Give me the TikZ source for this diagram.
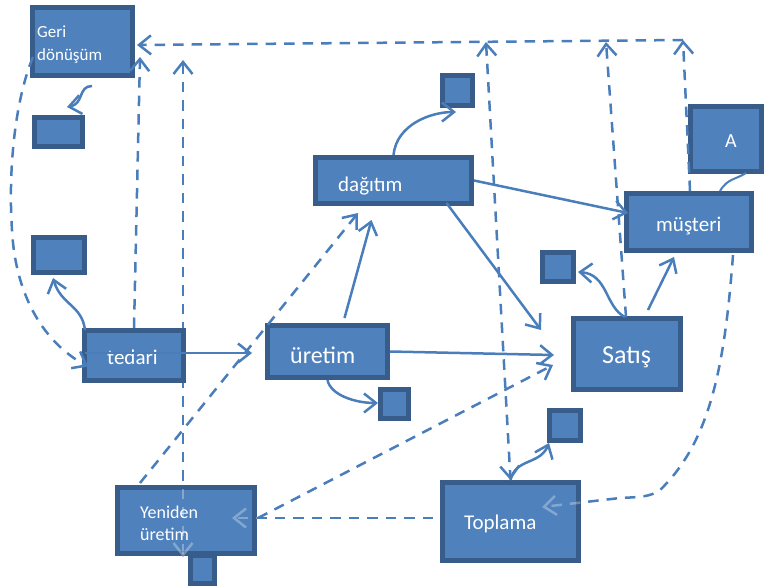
\documentclass[tikz,border=0pt]{standalone}
\usepackage{fontspec}
\setmainfont{Carlito}
\usetikzlibrary{arrows.meta,calc}
\definecolor{boxfill}{HTML}{4F81BD}
\definecolor{boxline}{HTML}{385D8A}
\definecolor{lineblue}{HTML}{4A7EBB}
\begin{document}
\begin{tikzpicture}[x=1pt,y=-1pt,
  >={Straight Barb[length=12pt,width=19pt]},
  box/.style={draw=boxline, fill=boxfill, line width=5pt, inner sep=0pt},
  lbl/.style={text=white, inner sep=0pt, anchor=base west},
  link/.style={draw=lineblue, line width=2.5pt, ->},
  dlink/.style={link, dash pattern=on 10.5pt off 8pt},
  thin/.style={draw=lineblue, line width=2pt},
  faint/.style={draw=white, opacity=0.3},
]
\useasboundingbox (0,0) rectangle (768,587);

% named free ends
\coordinate (ctr) at (683,40);
\coordinate (ctm) at (606,42);
\coordinate (ctl) at (486,42);
\coordinate (cgt) at (183,60);
\coordinate (cgl) at (12,230);
\coordinate (cbr) at (660,490);
\coordinate (cbr2) at (620,498);

% lines that pass under boxes (drawn first)
\draw[dlink,<->] (cgt) -- (183,557);
\draw[dlink] (433,518) -- (232,518);
\draw[dlink] (733,255) .. controls +(-8,105) and +(52,-50) .. (cbr)
   .. controls +(-10,7) and +(20,-1) .. (cbr2) -- (542,507);

% boxes
\node[box, minimum width=100pt, minimum height=68pt] (geri) at (82.5,41.5) {};
\node[box, minimum width=48pt, minimum height=29pt] (sb1) at (58.5,132) {};
\node[box, minimum width=51pt, minimum height=35pt] (sb2) at (59,255) {};
\node[box, minimum width=99pt, minimum height=50pt] (tedari) at (134,355.5) {};
\node[box, minimum width=120pt, minimum height=52pt] (uretim) at (327.5,351.5) {};
\node[box, minimum width=28pt, minimum height=29pt] (sb3) at (394.5,404) {};
\node[box, minimum width=156pt, minimum height=46pt] (dagitim) at (393.5,180.5) {};
\node[box, minimum width=30pt, minimum height=30pt] (sb4) at (457.5,90.5) {};
\node[box, minimum width=71pt, minimum height=65pt] (A) at (726,139) {};
\node[box, minimum width=125pt, minimum height=57pt] (musteri) at (689,222) {};
\node[box, minimum width=31pt, minimum height=29pt] (sb5) at (558,267) {};
\node[box, minimum width=107pt, minimum height=71pt] (satis) at (627,354) {};
\node[box, minimum width=31pt, minimum height=30pt] (sb6) at (565,425.5) {};
\node[box, minimum width=136pt, minimum height=78pt] (toplama) at (510.5,521.5) {};
\node[box, minimum width=137pt, minimum height=66pt] (yeniden) at (186,520.5) {};
\node[box, minimum width=24pt, minimum height=28pt] (sb7) at (202.5,569.5) {};

% faint traces of the hidden lines inside boxes
\begin{scope}
  \clip (yeniden.north west) rectangle (yeniden.south east);
  \draw[dlink,<->,faint] (cgt) -- (183,557);
  \draw[dlink,faint] (433,518) -- (232,518);
\end{scope}
\begin{scope}
  \clip (toplama.north west) rectangle (toplama.south east);
  \draw[dlink,faint] (733,255) .. controls +(-8,105) and +(52,-50) .. (cbr)
     .. controls +(-10,7) and +(20,-1) .. (cbr2) -- (542,507);
\end{scope}

% texts
\node[lbl, font=\fontsize{17}{20}\selectfont] (tg1) at (37,37) {Geri};
\node[lbl, font=\fontsize{17}{20}\selectfont] (tg2) at (37,60) {dönüşüm};
\node[lbl, font=\fontsize{21}{24}\selectfont] (tt) at (107,364) {tedari};
\node[lbl, font=\fontsize{24}{28}\selectfont] (tu) at (290,363) {üretim};
\node[lbl, font=\fontsize{21}{24}\selectfont] (td) at (338,191) {dağıtım};
\node[lbl, font=\fontsize{20}{24}\selectfont] (tA) at (725,147) {A};
\node[lbl, font=\fontsize{21}{24}\selectfont] (tm) at (656,231) {müşteri};
\node[lbl, font=\fontsize{26}{30}\selectfont] (ts) at (602,363) {Satış};
\node[lbl, font=\fontsize{21}{24}\selectfont] (tp) at (464,529) {Toplama};
\node[lbl, font=\fontsize{18}{22}\selectfont] (ty1) at (140,518) {Yeniden};
\node[lbl, font=\fontsize{18}{22}\selectfont] (ty2) at (140,540) {üretim};

% solid connectors
\draw[link] ($(tedari.west)+(3,-2.5)$) -- ($(uretim.west)+(-13,1.5)$);
\draw[link] (uretim.east) -- ($(satis.west)+(-17,1)$);
\draw[link] ($(uretim.north)+(17,-5)$) -- ($(dagitim.south)+(-22,14)$);
\draw[link] (dagitim.east) -- ($(musteri.west)+(4,-9)$);
\draw[link] ($(dagitim.south)+(53,-3)$) -- ($(satis.west)+(-30,-24)$);
\draw[link] ($(satis.north)+(21,-6)$) -- ($(musteri.south)+(-15,4)$);

% curved solid connectors to small boxes
\draw[link] ($(tedari.north west)+(3,2)$) .. controls +(-3,-25) and +(8,27) .. ($(sb2.south)+(-6,3)$);
\draw[link] ($(geri.south)+(9.5,8)$) .. controls +(-14,0) and +(17,-3) .. ($(sb1.north)+(8.5,-8)$);
\draw[link] (dagitim.north) .. controls +(3,-30) and +(-26,0) .. ($(sb4.south west)+(16,4)$);
\draw[link] (uretim.south) .. controls +(3,15) and +(-23,0) .. ($(sb3.west)+(0,-1)$);
\draw[link] ($(satis.north)+(-2,1)$) .. controls +(-20,-10) and +(30,2) .. ($(sb5.east)+(2,5)$);
\draw[link] (toplama.north) .. controls +(5,-22) and +(-9,22) .. ($(sb6.south)+(-16,0)$);
\draw[thin] ($(musteri.north)+(31,0)$) .. controls +(8,-13) and +(-11,7) .. ($(A.south)+(20,-1)$);

% dashed connectors
\draw[dlink] ($(musteri.north)+(1,0)$) -- (ctr);
\draw[dlink] (ctr) -- ($(geri.east)+(2,3.5)$);
\draw[dlink] ($(satis.north)+(-1,1)$) -- (ctm);
\draw[dlink,<->] (ctl) -- (toplama.north);
\draw[dlink] (tedari.north) -- ($(geri.south east)+(5,-21)$);
\draw[dlink] ($(geri.west)+(3,15.5)$) .. controls +(-18,43) and +(-4,-60) .. (cgl)
   .. controls +(3,60) and +(-48,-26) .. ($(tedari.west)+(6,11)$);
\draw[dlink] ($(yeniden.north west)+(25,-2)$) -- ($(dagitim.south west)+(45,7)$);
\draw[dlink] ($(yeniden.east)+(1,-2.5)$) -- ($(satis.west)+(-18,11)$);
\end{tikzpicture}
\end{document}
